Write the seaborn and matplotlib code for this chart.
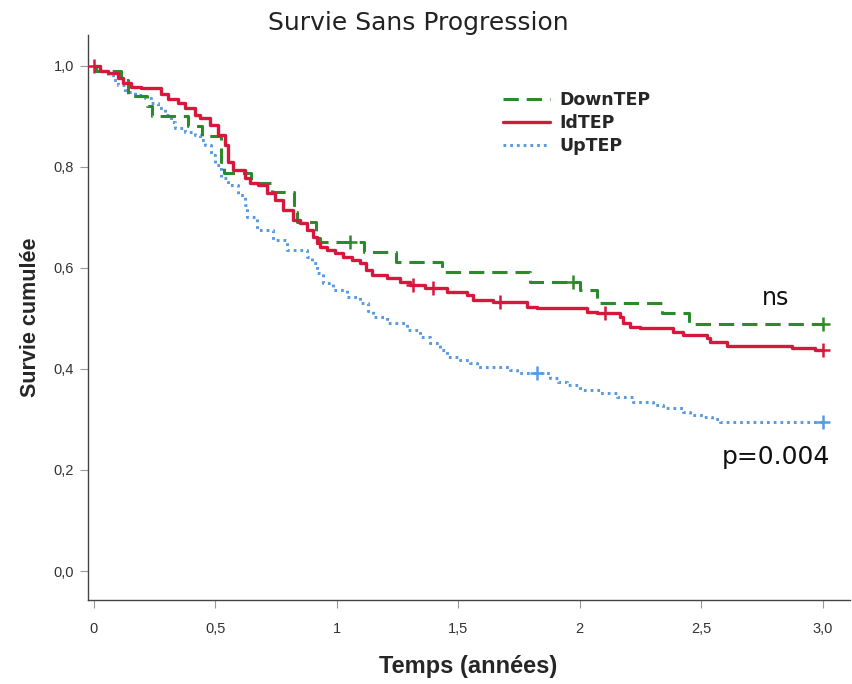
import matplotlib
matplotlib.use('Agg')
import matplotlib.pyplot as plt
import seaborn as sns
import pandas as pd
from matplotlib.lines import Line2D

# Données (temps en années, survie cumulée)
groupes = ['DownTEP', 'IdTEP', 'UpTEP']

temps_down = [0, 0.01, 0.111, 0.14, 0.22, 0.24, 0.387, 0.445, 0.523, 0.536, 0.647, 0.733,
              0.824, 0.836, 0.915, 0.93, 1.112, 1.244, 1.434, 1.796, 2.0, 2.073, 2.34, 2.452, 3.0]
survie_down = [1.0, 0.99, 0.972, 0.94, 0.92, 0.90, 0.88, 0.861, 0.81, 0.788, 0.768, 0.75,
               0.71, 0.69, 0.66, 0.652, 0.632, 0.612, 0.592, 0.572, 0.556, 0.531, 0.511, 0.489, 0.489]

temps_id = [0, 0.025, 0.058, 0.099, 0.12, 0.152, 0.194, 0.276, 0.305, 0.346, 0.375, 0.416,
            0.437, 0.478, 0.511, 0.54, 0.552, 0.573, 0.622, 0.643, 0.676, 0.713, 0.746, 0.779,
            0.82, 0.849, 0.878, 0.902, 0.919, 0.931, 0.96, 0.993, 1.026, 1.063, 1.096, 1.121,
            1.145, 1.207, 1.261, 1.302, 1.364, 1.454, 1.537, 1.562, 1.644, 1.784, 1.825, 2.031,
            2.073, 2.167, 2.18, 2.208, 2.25, 2.386, 2.427, 2.526, 2.538, 2.608, 2.876, 2.97, 3.0]
survie_id = [1.0, 0.99, 0.985, 0.975, 0.966, 0.958, 0.956, 0.945, 0.935, 0.927, 0.917, 0.903,
             0.897, 0.883, 0.863, 0.844, 0.81, 0.794, 0.778, 0.768, 0.764, 0.749, 0.735, 0.715,
             0.695, 0.689, 0.675, 0.661, 0.65, 0.642, 0.636, 0.63, 0.622, 0.616, 0.61, 0.596,
             0.586, 0.58, 0.572, 0.566, 0.56, 0.552, 0.547, 0.537, 0.533, 0.523, 0.521, 0.513,
             0.511, 0.503, 0.491, 0.483, 0.481, 0.473, 0.467, 0.461, 0.453, 0.446, 0.442, 0.438, 0.438]

temps_up = [0, 0.025, 0.058, 0.078, 0.099, 0.128, 0.169, 0.21, 0.235, 0.264, 0.293, 0.317,
            0.334, 0.375, 0.416, 0.437, 0.457, 0.482, 0.499, 0.523, 0.552, 0.593, 0.622, 0.63,
            0.672, 0.738, 0.795, 0.878, 0.898, 0.919, 0.944, 0.985, 1.042, 1.096, 1.129, 1.15,
            1.207, 1.29, 1.343, 1.384, 1.426, 1.454, 1.508, 1.549, 1.578, 1.714, 1.743, 1.879,
            1.912, 1.949, 2.002, 2.085, 2.155, 2.221, 2.303, 2.344, 2.427, 2.456, 2.509, 2.546,
            2.579, 3.0]
survie_up = [1.0, 0.99, 0.982, 0.972, 0.962, 0.948, 0.943, 0.937, 0.927, 0.917, 0.903, 0.889,
             0.877, 0.869, 0.863, 0.853, 0.844, 0.824, 0.804, 0.778, 0.764, 0.745, 0.725, 0.701,
             0.675, 0.655, 0.635, 0.622, 0.61, 0.59, 0.57, 0.556, 0.543, 0.531, 0.515, 0.503,
             0.491, 0.477, 0.463, 0.451, 0.438, 0.424, 0.418, 0.412, 0.404, 0.398, 0.392, 0.382,
             0.375, 0.368, 0.358, 0.352, 0.345, 0.335, 0.329, 0.323, 0.315, 0.309, 0.305, 0.3,
             0.295, 0.295]

# observations censurées (+)
cens_groupe = ['DownTEP', 'DownTEP', 'DownTEP', 'IdTEP', 'IdTEP', 'IdTEP', 'IdTEP', 'IdTEP', 'IdTEP',
               'UpTEP', 'UpTEP']
cens_temps = [1.055, 1.974, 3.0, 0.0, 1.314, 1.397, 1.673, 2.105, 3.0, 1.825, 3.0]
cens_survie = [0.652, 0.572, 0.489, 1.0, 0.566, 0.56, 0.533, 0.511, 0.438, 0.392, 0.295]

df = pd.concat([
    pd.DataFrame({'temps': temps_down, 'survie': survie_down, 'groupe': 'DownTEP'}),
    pd.DataFrame({'temps': temps_id, 'survie': survie_id, 'groupe': 'IdTEP'}),
    pd.DataFrame({'temps': temps_up, 'survie': survie_up, 'groupe': 'UpTEP'}),
])
cens = pd.DataFrame({'temps': cens_temps, 'survie': cens_survie, 'groupe': cens_groupe})

couleurs = {'DownTEP': '#2b8a2b', 'IdTEP': '#d8173c', 'UpTEP': '#5a9be0'}
traits = {'DownTEP': (0, (5, 2.6)), 'IdTEP': '-', 'UpTEP': (0, (0.9, 1.3))}
epaisseurs = {'DownTEP': 2.2, 'IdTEP': 2.4, 'UpTEP': 2.2}

sns.set_style('white')
plt.rcParams['font.family'] = ['Liberation Sans', 'DejaVu Sans']

fig = plt.figure(figsize=(8.53, 6.84), dpi=100)
ax = fig.add_axes([0.103, 0.123, 0.894, 0.826])

# ordre de tracé : bleu, vert, rouge au-dessus
for g in ['UpTEP', 'DownTEP', 'IdTEP']:
    sub = df[df['groupe'] == g]
    sns.lineplot(data=sub, x='temps', y='survie', estimator=None, sort=False, ax=ax,
                 color=couleurs[g], linestyle=traits[g], linewidth=epaisseurs[g],
                 drawstyle='steps-post', legend=False)
    c = cens[cens['groupe'] == g]
    sns.scatterplot(data=c, x='temps', y='survie', marker='+', s=90, linewidth=1.8,
                    color=couleurs[g], ax=ax, legend=False, zorder=5)

ax.set_xlim(-0.025, 3.115)
ax.set_ylim(-0.057, 1.061)
ax.set_xticks([0, 0.5, 1, 1.5, 2, 2.5, 3.0])
ax.set_xticklabels(['0', '0,5', '1', '1,5', '2', '2,5', '3,0'])
ax.set_yticks([0, 0.2, 0.4, 0.6, 0.8, 1.0])
ax.set_yticklabels(['0,0', '0,2', '0,4', '0,6', '0,8', '1,0'])
ax.tick_params(axis='x', direction='out', length=6, width=0.8, color='#999999', pad=10,
               labelsize=10.5, labelcolor='#333333', bottom=True)
ax.tick_params(axis='y', direction='out', length=6, width=0.8, color='#999999', pad=4,
               labelsize=10.5, labelcolor='#333333', left=True)

for s in ['top', 'right']:
    ax.spines[s].set_visible(False)
for s in ['left', 'bottom']:
    ax.spines[s].set_color('#444444')
    ax.spines[s].set_linewidth(1.0)

ax.set_xlabel('Temps (années)', fontsize=17, fontweight='bold')
ax.set_ylabel('Survie cumulée', fontsize=15.5, fontweight='bold', labelpad=9)
ax.xaxis.set_label_coords((468 - 88) / 762, -(655 - 600) / 565)

fig.text(0.49, 0.967, 'Survie Sans Progression', ha='center', va='center', fontsize=18,
         family='DejaVu Sans', color='#222222')

poignees = [Line2D([0], [0], color=couleurs[g], linestyle=traits[g], linewidth=epaisseurs[g])
            for g in groupes]
ax.legend(poignees, groupes, loc='upper left', bbox_to_anchor=(0.524, 0.929), frameon=False,
          handlelength=2.7, handletextpad=0.55, labelspacing=0.3,
          prop={'family': 'DejaVu Sans', 'weight': 'bold', 'size': 12.5})

ax.text(2.806, 0.54, 'ns', ha='center', va='center', fontsize=17, family='DejaVu Sans',
        color='#111111')
ax.text(2.81, 0.226, 'p=0.004', ha='center', va='center', fontsize=18, family='DejaVu Sans',
        color='#111111')

fig.savefig('out.png', dpi=100)
